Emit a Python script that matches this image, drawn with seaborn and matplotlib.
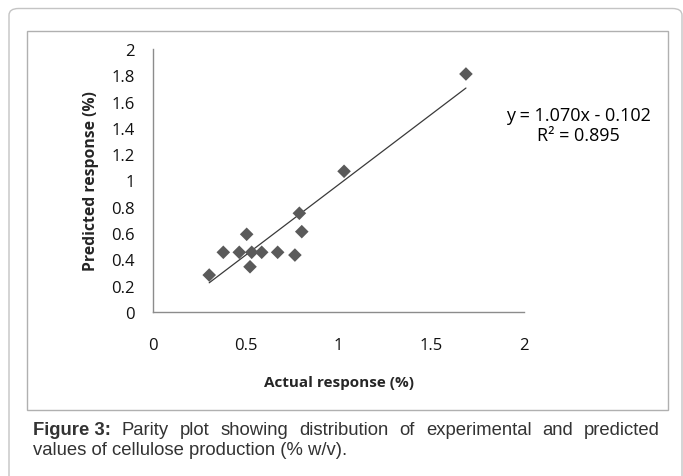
import matplotlib
matplotlib.use("Agg")
import matplotlib.pyplot as plt
from matplotlib.patches import FancyBboxPatch, Rectangle
import numpy as np
import pandas as pd
import seaborn as sns

# valores
actual = [0.303, 0.379, 0.465, 0.505, 0.523, 0.532, 0.586, 0.672, 0.765, 0.789, 0.802, 1.030, 1.687]
predicted = [0.281, 0.454, 0.454, 0.591, 0.344, 0.454, 0.454, 0.454, 0.433, 0.751, 0.611, 1.070, 1.810]
slope, intercept = 1.070, -0.102
eq_text = "y = 1.070x - 0.102\nR² = 0.895"
x_ticks = [0, 0.5, 1, 1.5, 2]
y_ticks = [0, 0.2, 0.4, 0.6, 0.8, 1, 1.2, 1.4, 1.6, 1.8, 2]
caption_bold = "Figure 3:"
caption_line1 = "Parity plot showing distribution of experimental and predicted"
caption_line2 = "values of cellulose production (% w/v)."

sns.set_style("white")
plt.rcParams['font.family'] = ['Open Sans', 'DejaVu Sans']

df = pd.DataFrame({'actual': actual, 'predicted': predicted})

fig = plt.figure(figsize=(6.83, 4.77), dpi=100)
W, H = 683, 477

# moldura externa e caixa do gráfico
fig.patches.append(FancyBboxPatch((9 / W, -0.1), (682 - 9) / W, (H - 9.5) / H + 0.1,
                                  boxstyle="round,pad=0,rounding_size=0.014",
                                  transform=fig.transFigure, fill=False,
                                  edgecolor='#c4c4c4', linewidth=1.0))
fig.patches.append(Rectangle((27 / W, 1 - 411 / H), (668 - 27) / W, (411 - 32) / H,
                             transform=fig.transFigure, fill=False,
                             edgecolor='#b0b0b0', linewidth=1.0))

ax = fig.add_axes([153 / W, 1 - 313 / H, (524 - 153) / W, (313 - 50) / H])
ax.set_facecolor('none')

sns.scatterplot(data=df, x='actual', y='predicted', marker='D', s=48,
                color='#5a5a5a', edgecolor='none', ax=ax, zorder=3)

xl = np.array([min(actual), max(actual)])
ax.plot(xl, slope * xl + intercept, color='#3a3a3a', linewidth=0.9, zorder=2)

ax.set_xlim(0, 2)
ax.set_ylim(0, 2)
ax.set_xticks(x_ticks)
ax.set_xticklabels([f"{t:g}" for t in x_ticks])
ax.set_yticks(y_ticks)
ax.set_yticklabels([f"{t:g}" for t in y_ticks])
ax.tick_params(axis='both', length=0, labelsize=12, colors='#111111')
ax.tick_params(axis='y', pad=13)
ax.tick_params(axis='x', pad=18)

sns.despine(ax=ax)
for side in ['left', 'bottom']:
    ax.spines[side].set_color('#8c8c8c')
    ax.spines[side].set_linewidth(1.0)

ax.set_xlabel("Actual response (%)", fontsize=11, fontweight='bold', labelpad=16)
ax.set_ylabel("Predicted response (%)", fontsize=11.3, fontweight='bold', labelpad=9)

fig.text(578 / W, 1 - 126 / H, eq_text, ha='center', va='center', fontsize=13,
         linespacing=1.15, color='#000000')

# legenda (justificada na primeira linha)
cap_kw = dict(family=['Liberation Sans', 'DejaVu Sans'], fontsize=13.3, color='#333333')
left, right = 33 / W, 660 / W
y1, y2 = 1 - 431 / H, 1 - 451 / H
fig.canvas.draw()
renderer = fig.canvas.get_renderer()
words = [(caption_bold, 'bold')] + [(w, 'normal') for w in caption_line1.split()]
widths = []
for w, wt in words:
    t = fig.text(0, 0, w, fontweight=wt, **cap_kw)
    widths.append(t.get_window_extent(renderer).width / W)
    t.remove()
gap = (right - left - sum(widths)) / (len(words) - 1)
xpos = left
for (w, wt), wd in zip(words, widths):
    fig.text(xpos, y1, w, fontweight=wt, va='center', **cap_kw)
    xpos += wd + gap
fig.text(left, y2, caption_line2, va='center', **cap_kw)

fig.savefig("out.png", dpi=100)
